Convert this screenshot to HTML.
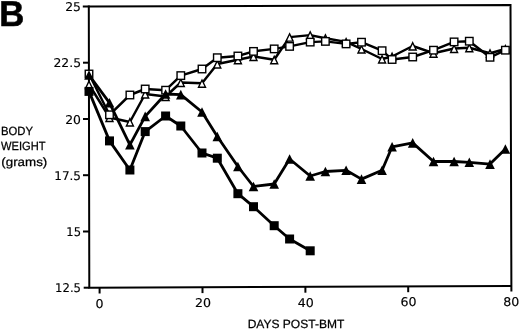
<!DOCTYPE html>
<html><head><meta charset="utf-8"><title>Body weight days post-BMT</title>
<style>
html,body{margin:0;padding:0;background:#fff;}
body{width:520px;height:330px;overflow:hidden;}
svg{display:block;}text{text-rendering:geometricPrecision;}
.t{font-family:"DejaVu Sans","Liberation Sans",sans-serif;font-size:12px;fill:#000;stroke:#000;stroke-width:0.15px;}
.l{font-family:"Liberation Sans",sans-serif;font-size:12px;fill:#000;stroke:#000;stroke-width:0.25px;}
.b{font-family:"Liberation Sans",sans-serif;font-weight:bold;font-size:36px;fill:#000;stroke:#000;stroke-width:0.6px;stroke-linejoin:round;}
</style></head><body>
<svg width="520" height="330" viewBox="0 0 520 330">
<rect width="520" height="330" fill="#fff"/>

<g stroke="#000" stroke-width="2" fill="none" stroke-linecap="butt">
<polyline points="82.8,6.5 88.7,6.5 510.5,5.0 511.4,291.5" stroke-linejoin="miter"/>
<polyline points="88.8,5.5 89.3,287.7 511.4,285.9"/>
<line x1="83.7" y1="287.7" x2="89.3" y2="287.7"/>
<line x1="83" y1="62.7" x2="89" y2="62.7"/>
<line x1="83" y1="119.0" x2="89" y2="119.0"/>
<line x1="83" y1="175.2" x2="89" y2="175.2"/>
<line x1="83" y1="231.5" x2="89" y2="231.5"/>
<line x1="99.6" y1="287.6" x2="99.6" y2="293.5"/>
<line x1="202.5" y1="287.2" x2="202.5" y2="293.09999999999997"/>
<line x1="305.4" y1="286.8" x2="305.4" y2="292.7"/>
<line x1="408.2" y1="286.3" x2="408.2" y2="292.2"/>
</g>
<text class="t" transform="translate(81.0,11.0) scale(1.03,1)" text-anchor="end">25</text>
<text class="t" transform="translate(81.0,67.3) scale(1.03,1)" text-anchor="end">22.5</text>
<text class="t" transform="translate(81.0,123.7) scale(1.03,1)" text-anchor="end">20</text>
<text class="t" transform="translate(81.0,180.0) scale(1.0,1)" text-anchor="end">17.5</text>
<text class="t" transform="translate(81.0,236.2) scale(0.96,1)" text-anchor="end">15</text>
<text class="t" transform="translate(81.0,292.4) scale(0.97,1)" text-anchor="end">12.5</text>
<text class="t" transform="translate(99.5,307.5) scale(1.05,1)" text-anchor="middle">0</text>
<text class="t" transform="translate(202.9,307.2) scale(1.05,1)" text-anchor="middle">20</text>
<text class="t" transform="translate(305.8,307.3) scale(1.05,1)" text-anchor="middle">40</text>
<text class="t" transform="translate(408.4,306.2) scale(1.05,1)" text-anchor="middle">60</text>
<text class="t" transform="translate(511.2,305.6) scale(1.05,1)" text-anchor="middle">80</text>
<text class="l" x="1.0" y="134.7" textLength="32" lengthAdjust="spacingAndGlyphs">BODY</text>
<text class="l" x="1.0" y="150.2" textLength="44.6" lengthAdjust="spacingAndGlyphs">WEIGHT</text>
<text class="l" x="1.3" y="166" textLength="46" lengthAdjust="spacingAndGlyphs">(grams)</text>
<text class="l" x="247.7" y="328.3" textLength="96.6" lengthAdjust="spacingAndGlyphs">DAYS POST-BMT</text>
<text class="b" transform="translate(0.35,26.0) scale(0.965,1)" x="-1.2" y="0">B</text>
<polyline points="89.0,84.5 109.5,117.5 129.9,122.0 145.2,94.0 165.6,96.5 180.8,82.5 202.0,83.3 217.3,64.0 237.9,59.7 253.5,56.5 274.2,59.7 289.6,37.1 310.2,35.1 325.4,38.2 346.1,41.9 361.5,49.0 382.1,59.0 392.1,56.5 412.7,46.0 433.5,53.2 454.1,48.5 469.3,47.7 490.0,53.2 505.4,49.0" fill="none" stroke="#000" stroke-width="2.45" stroke-linejoin="round"/>
<polygon points="89.00,81.20 92.50,88.50 85.50,88.50" fill="#fff" stroke="#000" stroke-width="1.4" stroke-linejoin="miter"/>
<polygon points="109.50,114.20 113.00,121.50 106.00,121.50" fill="#fff" stroke="#000" stroke-width="1.4" stroke-linejoin="miter"/>
<polygon points="129.90,118.70 133.40,126.00 126.40,126.00" fill="#fff" stroke="#000" stroke-width="1.4" stroke-linejoin="miter"/>
<polygon points="145.20,90.70 148.70,98.00 141.70,98.00" fill="#fff" stroke="#000" stroke-width="1.4" stroke-linejoin="miter"/>
<polygon points="165.60,93.20 169.10,100.50 162.10,100.50" fill="#fff" stroke="#000" stroke-width="1.4" stroke-linejoin="miter"/>
<polygon points="180.80,79.20 184.30,86.50 177.30,86.50" fill="#fff" stroke="#000" stroke-width="1.4" stroke-linejoin="miter"/>
<polygon points="202.00,80.00 205.50,87.30 198.50,87.30" fill="#fff" stroke="#000" stroke-width="1.4" stroke-linejoin="miter"/>
<polygon points="217.30,60.70 220.80,68.00 213.80,68.00" fill="#fff" stroke="#000" stroke-width="1.4" stroke-linejoin="miter"/>
<polygon points="237.90,56.40 241.40,63.70 234.40,63.70" fill="#fff" stroke="#000" stroke-width="1.4" stroke-linejoin="miter"/>
<polygon points="253.50,53.20 257.00,60.50 250.00,60.50" fill="#fff" stroke="#000" stroke-width="1.4" stroke-linejoin="miter"/>
<polygon points="274.20,56.40 277.70,63.70 270.70,63.70" fill="#fff" stroke="#000" stroke-width="1.4" stroke-linejoin="miter"/>
<polygon points="289.60,33.80 293.10,41.10 286.10,41.10" fill="#fff" stroke="#000" stroke-width="1.4" stroke-linejoin="miter"/>
<polygon points="310.20,31.80 313.70,39.10 306.70,39.10" fill="#fff" stroke="#000" stroke-width="1.4" stroke-linejoin="miter"/>
<polygon points="325.40,34.90 328.90,42.20 321.90,42.20" fill="#fff" stroke="#000" stroke-width="1.4" stroke-linejoin="miter"/>
<polygon points="346.10,38.60 349.60,45.90 342.60,45.90" fill="#fff" stroke="#000" stroke-width="1.4" stroke-linejoin="miter"/>
<polygon points="361.50,45.70 365.00,53.00 358.00,53.00" fill="#fff" stroke="#000" stroke-width="1.4" stroke-linejoin="miter"/>
<polygon points="382.10,55.70 385.60,63.00 378.60,63.00" fill="#fff" stroke="#000" stroke-width="1.4" stroke-linejoin="miter"/>
<polygon points="392.10,53.20 395.60,60.50 388.60,60.50" fill="#fff" stroke="#000" stroke-width="1.4" stroke-linejoin="miter"/>
<polygon points="412.70,42.70 416.20,50.00 409.20,50.00" fill="#fff" stroke="#000" stroke-width="1.4" stroke-linejoin="miter"/>
<polygon points="433.50,49.90 437.00,57.20 430.00,57.20" fill="#fff" stroke="#000" stroke-width="1.4" stroke-linejoin="miter"/>
<polygon points="454.10,45.20 457.60,52.50 450.60,52.50" fill="#fff" stroke="#000" stroke-width="1.4" stroke-linejoin="miter"/>
<polygon points="469.30,44.40 472.80,51.70 465.80,51.70" fill="#fff" stroke="#000" stroke-width="1.4" stroke-linejoin="miter"/>
<polygon points="490.00,49.90 493.50,57.20 486.50,57.20" fill="#fff" stroke="#000" stroke-width="1.4" stroke-linejoin="miter"/>
<polygon points="505.40,45.70 508.90,53.00 501.90,53.00" fill="#fff" stroke="#000" stroke-width="1.4" stroke-linejoin="miter"/>
<polyline points="89.0,74.0 109.5,114.8 129.9,95.0 145.2,89.0 165.6,90.2 180.8,75.6 202.0,69.0 217.3,57.7 237.9,56.0 253.5,51.4 274.2,48.9 289.6,46.4 310.2,42.1 325.4,41.4 346.1,43.9 361.5,42.2 382.1,50.7 392.1,59.5 412.7,57.0 433.5,50.2 454.1,41.9 469.3,41.2 490.0,57.3 505.4,50.2" fill="none" stroke="#000" stroke-width="2.45" stroke-linejoin="round"/>
<rect x="85.25" y="70.25" width="7.50" height="7.50" fill="#fff" stroke="#000" stroke-width="1.4"/>
<rect x="105.75" y="111.05" width="7.50" height="7.50" fill="#fff" stroke="#000" stroke-width="1.4"/>
<rect x="126.15" y="91.25" width="7.50" height="7.50" fill="#fff" stroke="#000" stroke-width="1.4"/>
<rect x="141.45" y="85.25" width="7.50" height="7.50" fill="#fff" stroke="#000" stroke-width="1.4"/>
<rect x="161.85" y="86.45" width="7.50" height="7.50" fill="#fff" stroke="#000" stroke-width="1.4"/>
<rect x="177.05" y="71.85" width="7.50" height="7.50" fill="#fff" stroke="#000" stroke-width="1.4"/>
<rect x="198.25" y="65.25" width="7.50" height="7.50" fill="#fff" stroke="#000" stroke-width="1.4"/>
<rect x="213.55" y="53.95" width="7.50" height="7.50" fill="#fff" stroke="#000" stroke-width="1.4"/>
<rect x="234.15" y="52.25" width="7.50" height="7.50" fill="#fff" stroke="#000" stroke-width="1.4"/>
<rect x="249.75" y="47.65" width="7.50" height="7.50" fill="#fff" stroke="#000" stroke-width="1.4"/>
<rect x="270.45" y="45.15" width="7.50" height="7.50" fill="#fff" stroke="#000" stroke-width="1.4"/>
<rect x="285.85" y="42.65" width="7.50" height="7.50" fill="#fff" stroke="#000" stroke-width="1.4"/>
<rect x="306.45" y="38.35" width="7.50" height="7.50" fill="#fff" stroke="#000" stroke-width="1.4"/>
<rect x="321.65" y="37.65" width="7.50" height="7.50" fill="#fff" stroke="#000" stroke-width="1.4"/>
<rect x="342.35" y="40.15" width="7.50" height="7.50" fill="#fff" stroke="#000" stroke-width="1.4"/>
<rect x="357.75" y="38.45" width="7.50" height="7.50" fill="#fff" stroke="#000" stroke-width="1.4"/>
<rect x="378.35" y="46.95" width="7.50" height="7.50" fill="#fff" stroke="#000" stroke-width="1.4"/>
<rect x="388.35" y="55.75" width="7.50" height="7.50" fill="#fff" stroke="#000" stroke-width="1.4"/>
<rect x="408.95" y="53.25" width="7.50" height="7.50" fill="#fff" stroke="#000" stroke-width="1.4"/>
<rect x="429.75" y="46.45" width="7.50" height="7.50" fill="#fff" stroke="#000" stroke-width="1.4"/>
<rect x="450.35" y="38.15" width="7.50" height="7.50" fill="#fff" stroke="#000" stroke-width="1.4"/>
<rect x="465.55" y="37.45" width="7.50" height="7.50" fill="#fff" stroke="#000" stroke-width="1.4"/>
<rect x="486.25" y="53.55" width="7.50" height="7.50" fill="#fff" stroke="#000" stroke-width="1.4"/>
<rect x="501.65" y="46.45" width="7.50" height="7.50" fill="#fff" stroke="#000" stroke-width="1.4"/>
<polyline points="89.0,91.4 109.5,140.9 129.9,170.0 145.2,131.6 165.6,116.0 180.8,126.0 202.0,153.0 217.3,158.2 237.9,193.7 253.5,206.7 274.2,225.7 289.6,239.0 310.2,250.8" fill="none" stroke="#000" stroke-width="2.8" stroke-linejoin="round"/>
<rect x="84.50" y="86.90" width="9.00" height="9.00" fill="#000"/>
<rect x="105.00" y="136.40" width="9.00" height="9.00" fill="#000"/>
<rect x="125.40" y="165.50" width="9.00" height="9.00" fill="#000"/>
<rect x="140.70" y="127.10" width="9.00" height="9.00" fill="#000"/>
<rect x="161.10" y="111.50" width="9.00" height="9.00" fill="#000"/>
<rect x="176.30" y="121.50" width="9.00" height="9.00" fill="#000"/>
<rect x="197.50" y="148.50" width="9.00" height="9.00" fill="#000"/>
<rect x="212.80" y="153.70" width="9.00" height="9.00" fill="#000"/>
<rect x="233.40" y="189.20" width="9.00" height="9.00" fill="#000"/>
<rect x="249.00" y="202.20" width="9.00" height="9.00" fill="#000"/>
<rect x="269.70" y="221.20" width="9.00" height="9.00" fill="#000"/>
<rect x="285.10" y="234.50" width="9.00" height="9.00" fill="#000"/>
<rect x="305.70" y="246.30" width="9.00" height="9.00" fill="#000"/>
<polyline points="89.0,75.0 109.5,102.8 129.9,144.8 145.2,116.4 165.6,94.0 180.8,94.6 202.0,112.0 217.3,136.5 237.9,166.5 253.5,186.5 274.2,184.0 289.6,159.0 310.2,176.0 325.4,171.5 346.1,170.3 361.5,179.1 382.1,170.3 392.1,146.8 412.7,142.9 433.5,161.5 454.1,161.5 469.3,162.3 490.0,164.1 505.4,149.0" fill="none" stroke="#000" stroke-width="2.8" stroke-linejoin="round"/>
<polygon points="89.00,70.20 93.80,79.80 84.20,79.80" fill="#000"/>
<polygon points="109.50,98.00 114.30,107.60 104.70,107.60" fill="#000"/>
<polygon points="129.90,140.00 134.70,149.60 125.10,149.60" fill="#000"/>
<polygon points="145.20,111.60 150.00,121.20 140.40,121.20" fill="#000"/>
<polygon points="165.60,89.20 170.40,98.80 160.80,98.80" fill="#000"/>
<polygon points="180.80,89.80 185.60,99.40 176.00,99.40" fill="#000"/>
<polygon points="202.00,107.20 206.80,116.80 197.20,116.80" fill="#000"/>
<polygon points="217.30,131.70 222.10,141.30 212.50,141.30" fill="#000"/>
<polygon points="237.90,161.70 242.70,171.30 233.10,171.30" fill="#000"/>
<polygon points="253.50,181.70 258.30,191.30 248.70,191.30" fill="#000"/>
<polygon points="274.20,179.20 279.00,188.80 269.40,188.80" fill="#000"/>
<polygon points="289.60,154.20 294.40,163.80 284.80,163.80" fill="#000"/>
<polygon points="310.20,171.20 315.00,180.80 305.40,180.80" fill="#000"/>
<polygon points="325.40,166.70 330.20,176.30 320.60,176.30" fill="#000"/>
<polygon points="346.10,165.50 350.90,175.10 341.30,175.10" fill="#000"/>
<polygon points="361.50,174.30 366.30,183.90 356.70,183.90" fill="#000"/>
<polygon points="382.10,165.50 386.90,175.10 377.30,175.10" fill="#000"/>
<polygon points="392.10,142.00 396.90,151.60 387.30,151.60" fill="#000"/>
<polygon points="412.70,138.10 417.50,147.70 407.90,147.70" fill="#000"/>
<polygon points="433.50,156.70 438.30,166.30 428.70,166.30" fill="#000"/>
<polygon points="454.10,156.70 458.90,166.30 449.30,166.30" fill="#000"/>
<polygon points="469.30,157.50 474.10,167.10 464.50,167.10" fill="#000"/>
<polygon points="490.00,159.30 494.80,168.90 485.20,168.90" fill="#000"/>
<polygon points="505.40,144.20 510.20,153.80 500.60,153.80" fill="#000"/>
</svg></body></html>
